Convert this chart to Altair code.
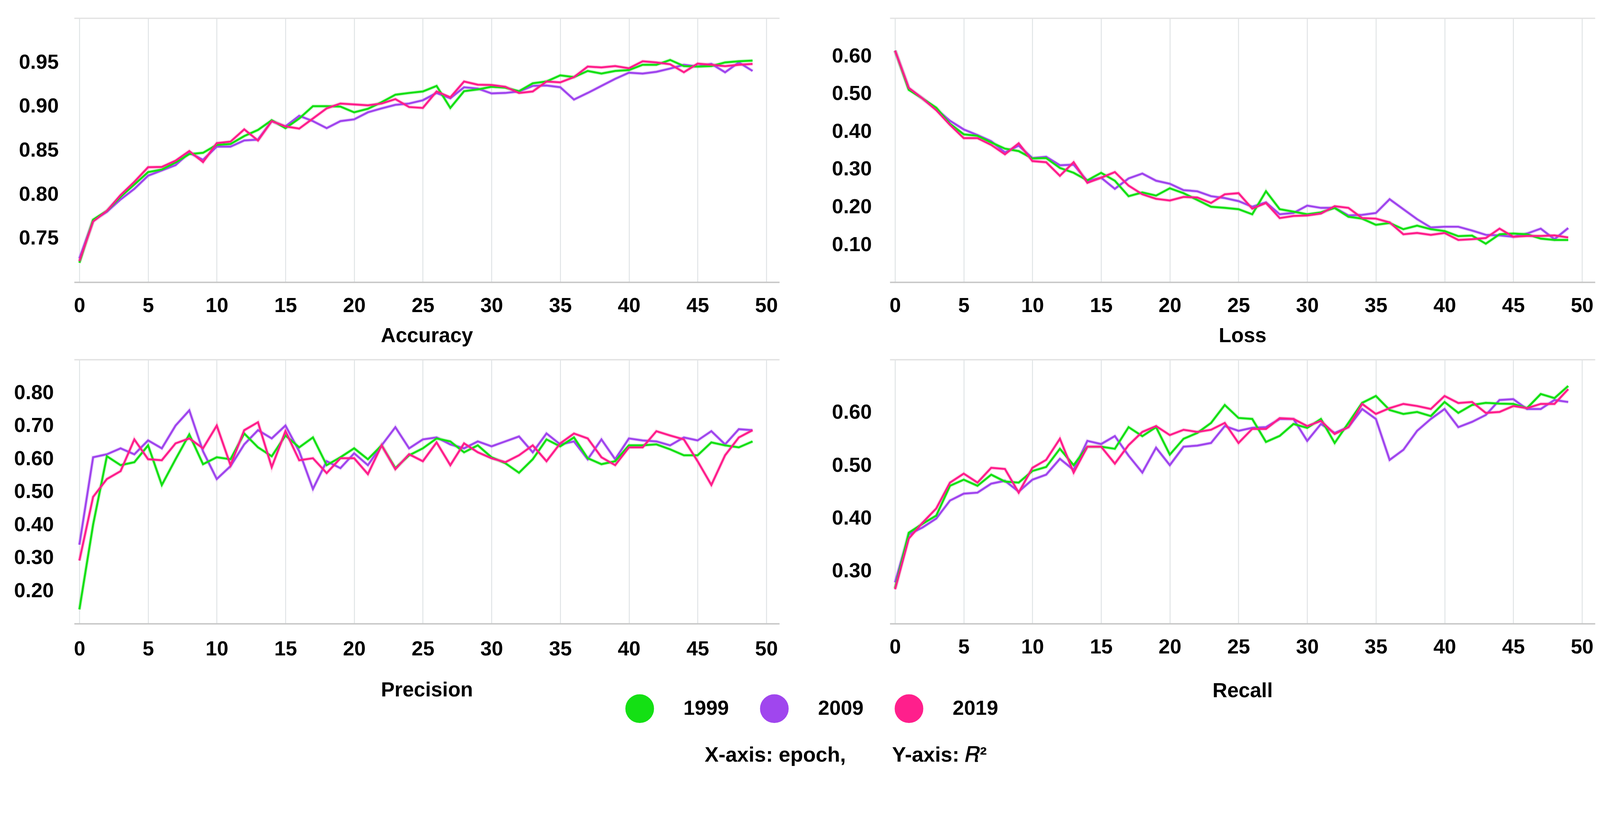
import altair as alt
import pandas as pd

epochs = list(range(50))
years = ["1999", "2009", "2019"]
colors = ["#14e014", "#a046ee", "#ff1f8c"]

acc_1999 = [0.722, 0.771, 0.781, 0.797, 0.811, 0.825, 0.828, 0.836, 0.8455, 0.847,
            0.856, 0.857, 0.866, 0.873, 0.884, 0.875, 0.886, 0.900, 0.900, 0.8995,
            0.893, 0.897, 0.9045, 0.913, 0.915, 0.9167, 0.923, 0.898, 0.917, 0.919,
            0.922, 0.921, 0.917, 0.926, 0.928, 0.935, 0.933, 0.940, 0.937, 0.940,
            0.941, 0.947, 0.947, 0.9525, 0.9455, 0.945, 0.9455, 0.9497, 0.951, 0.9518]
acc_2009 = [0.727, 0.770, 0.780, 0.794, 0.806, 0.821, 0.827, 0.833, 0.847, 0.839,
            0.854, 0.854, 0.861, 0.862, 0.883, 0.877, 0.889, 0.883, 0.875, 0.883,
            0.885, 0.893, 0.8975, 0.9015, 0.903, 0.9067, 0.915, 0.909, 0.9215, 0.920,
            0.9145, 0.915, 0.9167, 0.923, 0.9235, 0.9215, 0.9075, 0.915, 0.923, 0.931,
            0.938, 0.937, 0.939, 0.9427, 0.947, 0.945, 0.948, 0.9385, 0.9497, 0.940]
acc_2019 = [0.724, 0.769, 0.781, 0.799, 0.814, 0.8306, 0.831, 0.838, 0.849, 0.8365,
            0.858, 0.8597, 0.8736, 0.861, 0.883, 0.877, 0.8745, 0.886, 0.8975, 0.903,
            0.902, 0.901, 0.903, 0.908, 0.899, 0.898, 0.9167, 0.910, 0.928, 0.9244,
            0.924, 0.922, 0.915, 0.9167, 0.928, 0.927, 0.933, 0.945, 0.944, 0.9455,
            0.943, 0.951, 0.9497, 0.9476, 0.9385, 0.9483, 0.947, 0.9455, 0.947, 0.948]

loss_1999 = [0.614, 0.510, 0.487, 0.4625, 0.420, 0.392, 0.388, 0.3705, 0.354, 0.3475,
             0.328, 0.329, 0.303, 0.290, 0.270, 0.290, 0.269, 0.228, 0.238, 0.2295,
             0.249, 0.236, 0.218, 0.200, 0.197, 0.1935, 0.180, 0.241, 0.1935, 0.187,
             0.180, 0.185, 0.197, 0.1735, 0.1685, 0.152, 0.157, 0.1405, 0.150, 0.1405,
             0.1355, 0.122, 0.1235, 0.102, 0.127, 0.129, 0.127, 0.1155, 0.112, 0.112]
loss_2009 = [0.614, 0.514, 0.487, 0.459, 0.428, 0.405, 0.390, 0.3737, 0.344, 0.362,
             0.329, 0.3325, 0.310, 0.3115, 0.268, 0.277, 0.2475, 0.275, 0.288, 0.269,
             0.261, 0.244, 0.241, 0.228, 0.223, 0.215, 0.200, 0.2115, 0.180, 0.1835,
             0.203, 0.197, 0.197, 0.177, 0.1785, 0.1835, 0.220, 0.1935, 0.167, 0.145,
             0.147, 0.147, 0.137, 0.1255, 0.124, 0.1205, 0.129, 0.142, 0.114, 0.1435]
loss_2019 = [0.614, 0.515, 0.487, 0.456, 0.417, 0.382, 0.382, 0.364, 0.339, 0.368,
             0.321, 0.318, 0.282, 0.318, 0.2635, 0.277, 0.292, 0.256, 0.233, 0.221,
             0.2165, 0.226, 0.2245, 0.210, 0.233, 0.236, 0.195, 0.210, 0.170, 0.1755,
             0.177, 0.182, 0.2015, 0.197, 0.170, 0.1685, 0.1585, 0.127, 0.1305, 0.1255,
             0.1305, 0.112, 0.114, 0.117, 0.142, 0.1205, 0.1225, 0.1225, 0.124, 0.1185]

prec_1999 = [0.143, 0.400, 0.607, 0.580, 0.589, 0.640, 0.520, 0.598, 0.673, 0.583,
             0.604, 0.598, 0.676, 0.634, 0.607, 0.670, 0.634, 0.664, 0.580, 0.604,
             0.631, 0.598, 0.640, 0.571, 0.610, 0.631, 0.661, 0.652, 0.619, 0.640,
             0.604, 0.586, 0.557, 0.598, 0.658, 0.637, 0.664, 0.601, 0.583, 0.592,
             0.640, 0.640, 0.643, 0.628, 0.610, 0.610, 0.649, 0.640, 0.634, 0.652]
prec_2009 = [0.339, 0.604, 0.613, 0.631, 0.613, 0.655, 0.631, 0.700, 0.746, 0.622,
             0.538, 0.577, 0.643, 0.686, 0.661, 0.700, 0.622, 0.508, 0.592, 0.571,
             0.616, 0.580, 0.640, 0.695, 0.631, 0.658, 0.664, 0.643, 0.631, 0.652,
             0.637, 0.652, 0.667, 0.619, 0.676, 0.643, 0.652, 0.598, 0.658, 0.598,
             0.661, 0.655, 0.652, 0.640, 0.664, 0.655, 0.683, 0.643, 0.689, 0.686]
prec_2019 = [0.291, 0.484, 0.538, 0.562, 0.658, 0.598, 0.595, 0.646, 0.661, 0.631,
             0.700, 0.580, 0.686, 0.710, 0.574, 0.683, 0.595, 0.601, 0.556, 0.601,
             0.601, 0.553, 0.640, 0.568, 0.613, 0.592, 0.649, 0.580, 0.646, 0.619,
             0.601, 0.589, 0.610, 0.640, 0.592, 0.646, 0.676, 0.661, 0.604, 0.580,
             0.634, 0.634, 0.683, 0.670, 0.658, 0.592, 0.520, 0.610, 0.664, 0.686]

rec_1999 = [0.267, 0.372, 0.389, 0.4045, 0.461, 0.4725, 0.461, 0.482, 0.469, 0.467,
            0.489, 0.4966, 0.531, 0.500, 0.535, 0.535, 0.531, 0.572, 0.555, 0.572,
            0.520, 0.550, 0.561, 0.580, 0.614, 0.5894, 0.5875, 0.544, 0.5555, 0.578,
            0.5706, 0.5875, 0.542, 0.580, 0.618, 0.631, 0.6045, 0.597, 0.6008, 0.593,
            0.6196, 0.599, 0.614, 0.618, 0.6166, 0.616, 0.608, 0.6347, 0.627, 0.650]
rec_2009 = [0.278, 0.369, 0.382, 0.399, 0.433, 0.446, 0.448, 0.465, 0.4705, 0.450,
            0.4725, 0.482, 0.512, 0.491, 0.546, 0.540, 0.555, 0.518, 0.486, 0.533,
            0.500, 0.535, 0.537, 0.542, 0.574, 0.565, 0.5706, 0.572, 0.5875, 0.5875,
            0.546, 0.578, 0.561, 0.572, 0.6064, 0.5875, 0.510, 0.529, 0.565, 0.5875,
            0.6064, 0.572, 0.582, 0.595, 0.6234, 0.625, 0.6064, 0.6064, 0.6234, 0.6196]
rec_2019 = [0.265, 0.361, 0.391, 0.418, 0.467, 0.484, 0.467, 0.495, 0.4928, 0.448,
            0.495, 0.510, 0.550, 0.486, 0.535, 0.535, 0.503, 0.538, 0.563, 0.574,
            0.557, 0.567, 0.563, 0.567, 0.580, 0.542, 0.5687, 0.5687, 0.589, 0.5875,
            0.574, 0.5838, 0.559, 0.572, 0.616, 0.597, 0.608, 0.616, 0.612, 0.6064,
            0.631, 0.6177, 0.6196, 0.599, 0.6008, 0.612, 0.608, 0.616, 0.616, 0.644]

x_ticks = list(range(0, 51, 5))
FONT = "Liberation Sans"


def panel(title, s1999, s2009, s2019, ydom, yticks, lab_pad_y, lab_pad_x, title_pad):
    df = pd.DataFrame({
        "epoch": epochs * 3,
        "value": s2009 + s1999 + s2019,
        "year": ["2009"] * 50 + ["1999"] * 50 + ["2019"] * 50,
    })
    x = alt.X("epoch:Q",
              scale=alt.Scale(domain=[-0.38, 50.95], nice=False, zero=False),
              axis=alt.Axis(values=x_ticks, title=title, labelPadding=lab_pad_x,
                            titlePadding=title_pad))
    yscale = alt.Scale(domain=ydom, nice=False, zero=False)
    y_left = alt.Y("value:Q", scale=yscale,
                   axis=alt.Axis(values=yticks, title=None, labelPadding=lab_pad_y,
                                 format=".2f"))
    # second (unlabelled) axis only to draw the gridline on the top edge
    y_top = alt.Y("value:Q", scale=yscale,
                  axis=alt.Axis(orient="right", values=[ydom[1]], labels=False,
                                title=None, domain=False, ticks=False))
    color = alt.Color("year:N", scale=alt.Scale(domain=years, range=colors), title=None)
    base = alt.Chart(df)
    halo = base.mark_line(strokeWidth=11, opacity=0.13).encode(x=x, y=y_top, color=color)
    line = base.mark_line(strokeWidth=5.5).encode(x=x, y=y_left, color=color)
    return alt.layer(halo, line).resolve_axis(y="independent").properties(
        width=1896, height=710)


acc = panel("Accuracy", acc_1999, acc_2009, acc_2019, [0.70, 1.00],
            [0.75, 0.80, 0.85, 0.90, 0.95], 42, 37, 27)
loss = panel("Loss", loss_1999, loss_2009, loss_2019, [0.0, 0.70],
             [0.1, 0.2, 0.3, 0.4, 0.5, 0.6], 49, 37, 27)
prec = panel("Precision", prec_1999, prec_2009, prec_2019, [0.10, 0.90],
             [0.2, 0.3, 0.4, 0.5, 0.6, 0.7, 0.8], 55, 42, 56)
rec = panel("Recall", rec_1999, rec_2009, rec_2019, [0.20, 0.70],
            [0.3, 0.4, 0.5, 0.6], 49, 37, 63)


def build(top_pad):
    return alt.concat(
        acc, loss, prec, rec, columns=2, bounds="flush",
        spacing={"row": 208, "column": 297},
    ).properties(
        padding={"left": 28, "top": top_pad, "right": 5, "bottom": 5},
        title=alt.TitleParams(
            text="X-axis: epoch," + "\u00a0" * 8 + "Y-axis: \U0001D445\u00b2",
            orient="bottom", anchor="middle", fontSize=56, fontWeight="bold",
            font=FONT, color="black", offset=2, dx=111),
    ).configure(
        font=FONT, background="white"
    ).configure_view(
        stroke=None
    ).configure_axis(
        labelFont=FONT, labelFontSize=55, labelFontWeight="bold", labelColor="black",
        titleFont=FONT, titleFontSize=55, titleFontWeight="bold", titleColor="black",
        ticks=False, labelFlush=False, labelOverlap=False, labelBound=False,
    ).configure_axisX(
        domain=True, domainColor="#c8c8c8", domainWidth=4,
        grid=True, gridColor="#dfe3e5", gridWidth=2.5,
    ).configure_axisY(
        domain=False, grid=True, gridColor="#e2e2e2", gridWidth=3.5,
    ).configure_legend(
        orient="none", legendX=1482, legendY=1818, direction="horizontal",
        symbolType="circle", symbolSize=1482.25, symbolStrokeWidth=38.5, symbolOpacity=1,
        labelFont=FONT, labelFontSize=55, labelFontWeight="bold", labelColor="black",
        labelOffset=79, columnPadding=25, padding=0,
    )


try:
    chart = build(-10)
    chart.to_dict()
except Exception:
    chart = build(0)

chart.save("out.html", embed_options={"renderer": "svg", "actions": False})
